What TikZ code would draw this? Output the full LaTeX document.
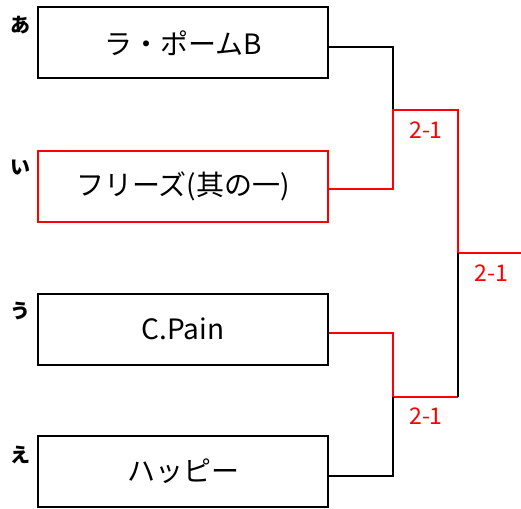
\documentclass[tikz,border=0pt]{standalone}
\usepackage{fontspec}
\setmainfont{Noto Sans CJK JP}
\begin{document}
\begin{tikzpicture}[x=1pt,y=-1pt,
  team/.style={draw=black,line width=2pt,minimum width=290pt,minimum height=71pt,inner sep=0pt,font=\fontsize{28}{30}\selectfont},
  winbox/.style={team,draw=red},
  seed/.style={font=\fontsize{20}{22}\selectfont\bfseries,inner sep=0pt},
  score/.style={text=red,font=\fontsize{23}{25}\selectfont,inner sep=0pt},
  lose/.style={draw=black,line width=2pt},
  win/.style={draw=red,line width=2pt}]
\useasboundingbox (0,0) rectangle (521,508);
\node[team]   (b1) at (183,43)  {ラ・ポームB};
\node[winbox] (b2) at (183,186.5) {フリーズ(其の一)};
\node[team]   (b3) at (183,329) {C.Pain};
\node[team]   (b4) at (183,471.5) {ハッピー};
\node[seed] (s1) at (20,25)  {あ};
\node[seed] (s2) at (20,168) {い};
\node[seed] (s3) at (20,311) {う};
\node[seed] (s4) at (20,455) {え};
\coordinate (m1) at (393,110);
\coordinate (m2) at (393,397);
\coordinate (f)  at (458,253);
\coordinate (fe) at (521,253);
\coordinate (m1r) at (458,110);
\coordinate (m2r) at (458,397);
\draw[lose] ([yshift=-4pt]b1.east) -| (m1);
\draw[win] ([yshift=-2.5pt]b2.east) -| (m1) -- (m1r) -- (f) -- (fe);
\draw[win] ([yshift=-4pt]b3.east) -| (m2) -- (m2r);
\draw[lose] (m2r) -- (f);
\draw[lose] ([yshift=-4.5pt]b4.east) -| (m2);
\node[score] (r1) at (426,130) {2-1};
\node[score] (r2) at (426,416) {2-1};
\node[score] (r3) at (491,273) {2-1};
\end{tikzpicture}
\end{document}
